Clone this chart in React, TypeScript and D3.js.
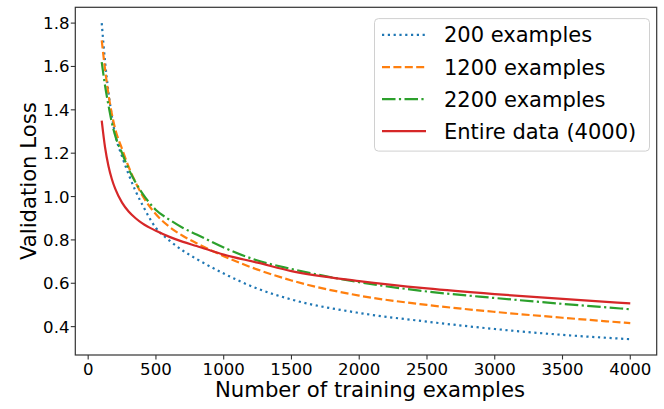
import React from 'react';
import * as d3 from 'd3';

const xValues = [100, 125, 150, 175, 200, 250, 300, 350, 400, 500, 600, 700, 800, 1000, 1250, 1500, 2000, 2500, 3000, 3500, 4000];

const loss200 = [1.8, 1.62, 1.48, 1.37, 1.285, 1.185, 1.1, 1.025, 0.962, 0.855, 0.797, 0.75, 0.712, 0.645, 0.575, 0.525, 0.463, 0.423, 0.389, 0.362, 0.342];
const loss1200 = [1.72, 1.585, 1.47, 1.38, 1.31, 1.22, 1.135, 1.065, 1.005, 0.918, 0.86, 0.818, 0.785, 0.725, 0.663, 0.613, 0.543, 0.5, 0.468, 0.441, 0.416];
const loss2200 = [1.62, 1.51, 1.42, 1.34, 1.28, 1.2, 1.125, 1.065, 1.015, 0.938, 0.893, 0.855, 0.825, 0.765, 0.705, 0.666, 0.605, 0.562, 0.532, 0.505, 0.48];
const lossAll = [1.35, 1.225, 1.14, 1.08, 1.035, 0.972, 0.93, 0.9, 0.876, 0.842, 0.814, 0.791, 0.772, 0.732, 0.695, 0.656, 0.61, 0.576, 0.55, 0.528, 0.507];

const seriesNames = ['200 examples', '1200 examples', '2200 examples', 'Entire data (4000)'];
const seriesValues = [loss200, loss1200, loss2200, lossAll];
const seriesColors = ['#1f77b4', '#ff7f0e', '#2ca02c', '#d62728'];
const seriesDash = ['2.2,3.6', '8,3.4', '13.5,3.4,2.2,3.4', ''];

const xTicks = [0, 500, 1000, 1500, 2000, 2500, 3000, 3500, 4000];
const yTicks = [0.4, 0.6, 0.8, 1.0, 1.2, 1.4, 1.6, 1.8];

const W = 664;
const H = 409;
const left = 75.3;
const right = 656.7;
const top = 7.3;
const bottom = 355;
const font = 'DejaVu Sans, sans-serif';

export default function App() {
  const [xMin, xMax] = d3.extent(xValues) as [number, number];
  const allY = seriesValues.flat();
  const [yMin, yMax] = d3.extent(allY) as [number, number];
  const xPad = (xMax - xMin) * 0.05;
  const yPad = (yMax - yMin) * 0.05;

  const x = d3.scaleLinear().domain([xMin - xPad, xMax + xPad]).range([left, right]);
  const y = d3.scaleLinear().domain([yMin - yPad, yMax + yPad]).range([bottom, top]);

  const line = d3
    .line<[number, number]>()
    .x(d => x(d[0]))
    .y(d => y(d[1]))
    .curve(d3.curveMonotoneX);

  const legendX = 374.5;
  const legendY = 18.6;
  const legendW = 275;
  const legendH = 132.5;
  const rowY = [34.8, 67.2, 99.2, 131.2];

  return (
    <svg
      width={W}
      height={H}
      style={{ position: 'absolute', left: 0, top: 0, background: '#fff' }}
      fontFamily={font}
    >
      <rect x={0} y={0} width={W} height={H} fill="#fff" />

      {seriesValues.map((vals, i) => (
        <path
          key={seriesNames[i]}
          d={line(xValues.map((v, j) => [v, vals[j]] as [number, number])) || ''}
          fill="none"
          stroke={seriesColors[i]}
          strokeWidth={2.2}
          strokeDasharray={seriesDash[i] || undefined}
        />
      ))}

      <rect
        x={left}
        y={top}
        width={right - left}
        height={bottom - top}
        fill="none"
        stroke="#333"
        strokeWidth={1.2}
      />

      {xTicks.map(t => (
        <g key={`x${t}`} transform={`translate(${x(t)},0)`}>
          <line y1={bottom} y2={bottom + 4.5} stroke="#333" strokeWidth={1.1} />
          <text y={375} textAnchor="middle" fontSize={16.6} fill="#000">
            {t}
          </text>
        </g>
      ))}

      {yTicks.map(t => (
        <g key={`y${t}`} transform={`translate(0,${y(t)})`}>
          <line x1={left} x2={left - 4.5} stroke="#333" strokeWidth={1.1} />
          <text x={69.5} dy="0.36em" textAnchor="end" fontSize={16.6} fill="#000">
            {t.toFixed(1)}
          </text>
        </g>
      ))}

      <text x={(left + right) / 2 + 4} y={397.3} textAnchor="middle" fontSize={21.2} fill="#000">
        Number of training examples
      </text>
      <text
        transform={`translate(36,${(top + bottom) / 2}) rotate(-90)`}
        textAnchor="middle"
        fontSize={21.2}
        fill="#000"
      >
        Validation Loss
      </text>

      <rect
        x={legendX}
        y={legendY}
        width={legendW}
        height={legendH}
        rx={4}
        fill="#fff"
        fillOpacity={0.8}
        stroke="#d0d0d0"
        strokeWidth={1}
      />
      {seriesNames.map((name, i) => (
        <g key={`leg${i}`} transform={`translate(0,${rowY[i]})`}>
          <line
            x1={382}
            x2={426}
            stroke={seriesColors[i]}
            strokeWidth={2.2}
            strokeDasharray={seriesDash[i] || undefined}
          />
          <text x={444} dy="0.36em" fontSize={21} fill="#000">
            {name}
          </text>
        </g>
      ))}
    </svg>
  );
}
